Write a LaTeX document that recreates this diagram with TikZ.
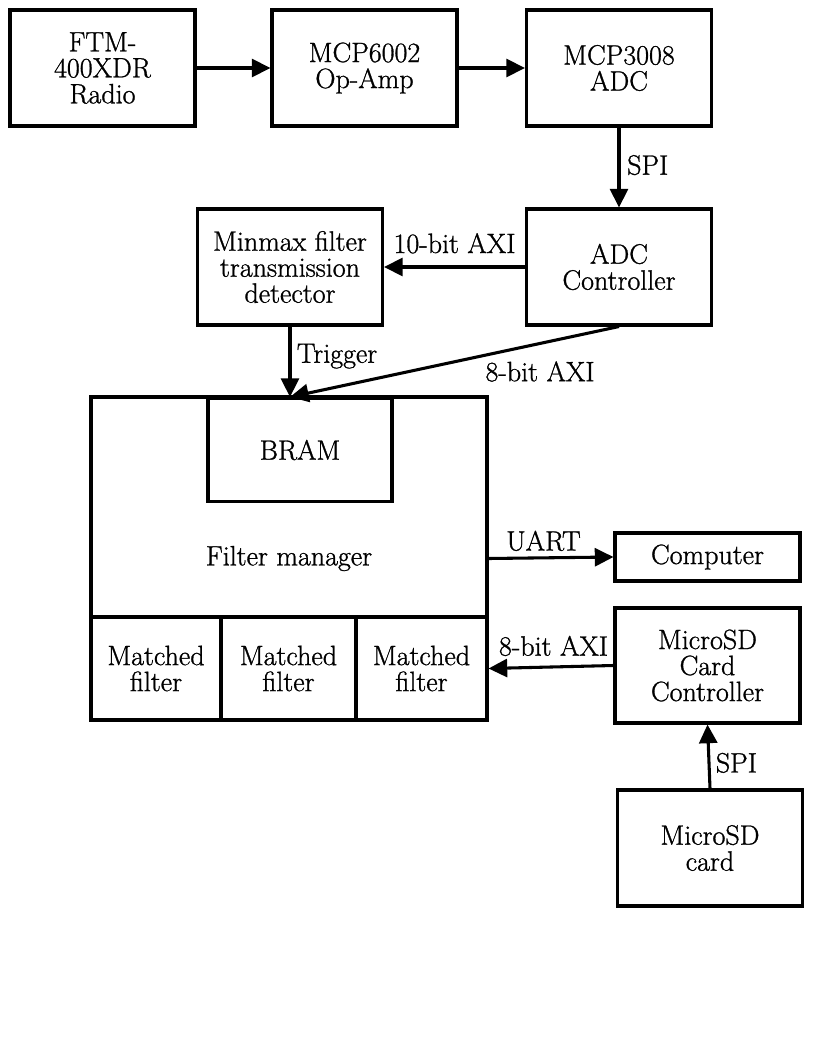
\documentclass[tikz,border=0pt]{standalone}
\usepackage{fontspec}
\newfontfamily\hvfont{lmroman17-regular.otf}[FakeBold=1.0]
\usetikzlibrary{arrows.meta}
\begin{document}
\begin{tikzpicture}[x=0.75pt,y=-0.75pt,
  every node/.style={font=\hvfont\fontsize{21pt}{19.5pt}\selectfont},
  blk/.style={draw, line width=2.3pt, align=center, inner sep=0pt, minimum width=#1},
  blk/.default=138.75pt,
  conn/.style={line width=2.3pt, -{Triangle[length=14pt,width=13.5pt]}},
  lab/.style={inner sep=4pt}
]
\useasboundingbox (0,0) rectangle (816,1056);
% top row
\node[blk, minimum height=87pt] (ftm) at (102.5,68) {FTM-\\400XDR\\Radio};
\node[blk, minimum height=87pt] (amp) at (364.5,68) {MCP6002\\Op-Amp};
\node[blk, minimum height=87pt] (adc) at (619,68) {MCP3008\\ADC};
% second row
\node[blk, minimum height=87pt] (ctrl) at (619,267) {ADC\\Controller};
\node[blk, minimum height=87pt] (mm) at (290,267) {Minmax filter\\transmission\\detector};
% filter manager
\node[blk=297pt, minimum height=242.25pt] (fm) at (289,558.5) {Filter manager};
\node[blk=138pt, minimum height=77.25pt, anchor=north] (bram) at (300,397) {BRAM};
\node[blk=97.5pt, minimum height=77.25pt] (mf1) at (156,668.5) {Matched\\filter};
\node[blk=101.25pt, minimum height=77.25pt] (mf2) at (288.5,668.5) {Matched\\filter};
\node[blk=98.25pt, minimum height=77.25pt] (mf3) at (421.5,668.5) {Matched\\filter};
% right column
\node[blk, minimum height=36pt] (comp) at (707.5,557) {Computer};
\node[blk, minimum height=86.25pt] (sdc) at (707.5,665.5) {MicroSD\\Card\\Controller};
\node[blk, minimum height=87pt] (sd) at (710,848) {MicroSD\\card};
% connectors
\coordinate (in) at (mm.south |- bram.north);
\draw[conn] (ftm.east) -- (amp.west);
\draw[conn] (amp.east) -- (adc.west);
\draw[conn] (adc.south) -- node[pos=0.47, right, lab, inner sep=5pt] {SPI} (ctrl.north);
\draw[conn] (ctrl.west) -- node[midway, above, lab, inner sep=9pt] {10-bit AXI} (mm.east);
\draw[conn] (mm.south) -- node[pos=0.42, right, lab] {Trigger} (in);
\draw[conn] (ctrl.south) -- node[pos=0.24, anchor=north, yshift=-9pt] {8-bit AXI} (in);
\draw[conn] (fm.east) -- node[pos=0.44, above, lab] {UART} (comp.west);
\draw[conn] (sdc.west) -- node[pos=0.48, above, lab, inner sep=7pt] {8-bit AXI} (mf3.east);
\draw[conn] (sd.north) -- node[pos=0.4, right, lab] {SPI} (sdc.south);
\end{tikzpicture}
\end{document}
